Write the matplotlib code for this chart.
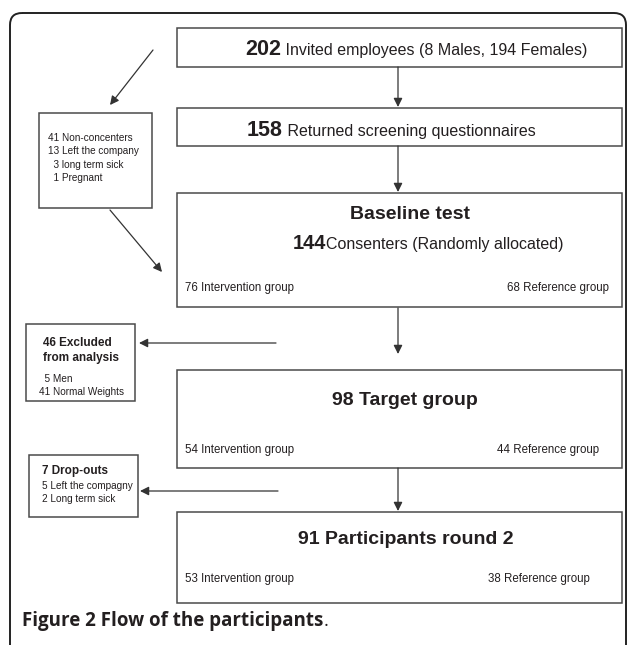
import matplotlib.pyplot as plt
from matplotlib.patches import Rectangle, FancyBboxPatch
from matplotlib import font_manager

# Set data
flow_counts = [202, 158, 144, 98, 91]
flow_labels = ['Invited employees (8 Males, 194 Females)',
               'Returned screening questionnaires',
               'Consenters (Randomly allocated)',
               'Target group',
               'Participants round 2']
baseline_title = 'Baseline test'
intervention_n = [76, 54, 53]
reference_n = [68, 44, 38]
nonconsent_lines = ['41 Non-concenters', '13 Left the company', '  3 long term sick', '  1 Pregnant']
excluded_title = ['46 Excluded', 'from analysis']
excluded_lines = ['  5 Men', '41 Normal Weights']
dropout_title = '7 Drop-outs'
dropout_lines = ['5 Left the compagny', '2 Long term sick']
caption_bold = 'Figure 2 Flow of the participants'

names = {f.name for f in font_manager.fontManager.ttflist}
narrow = 'Liberation Sans Narrow' if 'Liberation Sans Narrow' in names else 'Liberation Sans'
plt.rcParams['font.family'] = [narrow, 'DejaVu Sans']

TXT = '#231f20'
BOX = '#4a4a4a'

fig = plt.figure(figsize=(6.29, 6.45), dpi=100)
ax = fig.add_axes([0, 0, 1, 1])
ax.set_xlim(0, 629)
ax.set_ylim(645, 0)
ax.axis('off')

# outer frame (bottom runs off the picture)
ax.add_patch(FancyBboxPatch((10, 13), 616, 680, boxstyle='round,pad=0,rounding_size=12',
                            fill=False, ec='#222222', lw=1.4))

def box(x0, y0, x1, y1):
    ax.add_patch(Rectangle((x0, y0), x1 - x0, y1 - y0, fill=False, ec=BOX, lw=1.1))

def arrow(tail, head):
    ax.annotate('', xy=head, xytext=tail,
                arrowprops=dict(arrowstyle='-|>', color='#333333', lw=0.9,
                                mutation_scale=13, shrinkA=0, shrinkB=0))

renderer = fig.canvas.get_renderer()

def pair(x, y, bold_txt, norm_txt, bsize, nsize, gap=0):
    t = ax.text(x, y, bold_txt, fontsize=bsize, fontweight='bold', color=TXT, va='baseline')
    bb = t.get_window_extent(renderer).transformed(ax.transData.inverted())
    ax.text(bb.x1 + gap, y, norm_txt, fontsize=nsize, color=TXT, va='baseline')

# main column boxes
main_boxes = [(177, 28, 622, 67), (177, 108, 622, 146), (177, 193, 622, 307),
              (177, 370, 622, 468), (177, 512, 622, 603)]
for b in main_boxes:
    box(*b)

pair(245, 55, str(flow_counts[0]), ' ' + flow_labels[0], 15.5, 11.5)
pair(247, 136, str(flow_counts[1]), ' ' + flow_labels[1], 15.5, 11.5)
ax.text(410, 219, baseline_title, fontsize=14, fontweight='bold', color=TXT, ha='center', va='baseline')
pair(293, 249, str(flow_counts[2]), flow_labels[2], 14.5, 11.5)
ax.text(405, 405, f'{flow_counts[3]} {flow_labels[3]}', fontsize=14, fontweight='bold',
        color=TXT, ha='center', va='baseline')
ax.text(406, 544, f'{flow_counts[4]} {flow_labels[4]}', fontsize=14, fontweight='bold',
        color=TXT, ha='center', va='baseline')

for i, y in enumerate([291, 453, 582]):
    ax.text(185, y, f'{intervention_n[i]} Intervention group', fontsize=8.3, color=TXT, va='baseline')
for i, (y, xr) in enumerate([(291, 609), (453, 599), (582, 590)]):
    ax.text(xr, y, f'{reference_n[i]} Reference group', fontsize=8.3, color=TXT, ha='right', va='baseline')

# side boxes
box(39, 113, 152, 208)
for i, s in enumerate(nonconsent_lines):
    ax.text(48, 141 + i * 13.3, s, fontsize=7.2, color=TXT, va='baseline')

box(26, 324, 135, 401)
for i, s in enumerate(excluded_title):
    ax.text(43, 346 + i * 15.5, s, fontsize=8.5, fontweight='bold', color=TXT, va='baseline')
ax.text(39, 382, excluded_lines[0], fontsize=7.2, color=TXT, va='baseline')
ax.text(39, 395, excluded_lines[1], fontsize=7.2, color=TXT, va='baseline')

box(29, 455, 138, 517)
ax.text(42, 474, dropout_title, fontsize=8.5, fontweight='bold', color=TXT, va='baseline')
for i, s in enumerate(dropout_lines):
    ax.text(42, 489 + i * 13.3, s, fontsize=7.2, color=TXT, va='baseline')

# arrows
for y0, y1 in [(67, 107), (146, 192), (308, 354), (468, 511)]:
    arrow((398, y0), (398, y1))
arrow((153, 50), (110, 105))
arrow((110, 210), (162, 272))
arrow((276, 343), (139, 343))
arrow((278, 491), (140, 491))

# caption
cap = ax.text(22, 626, caption_bold, fontsize=13.5, fontweight='bold', color=TXT,
              family=['Open Sans', 'DejaVu Sans'], va='baseline')
bb = cap.get_window_extent(renderer).transformed(ax.transData.inverted())
ax.text(bb.x1, 626, '.', fontsize=13.5, color=TXT, family=['Open Sans', 'DejaVu Sans'], va='baseline')

plt.savefig('out.png', dpi=100)
